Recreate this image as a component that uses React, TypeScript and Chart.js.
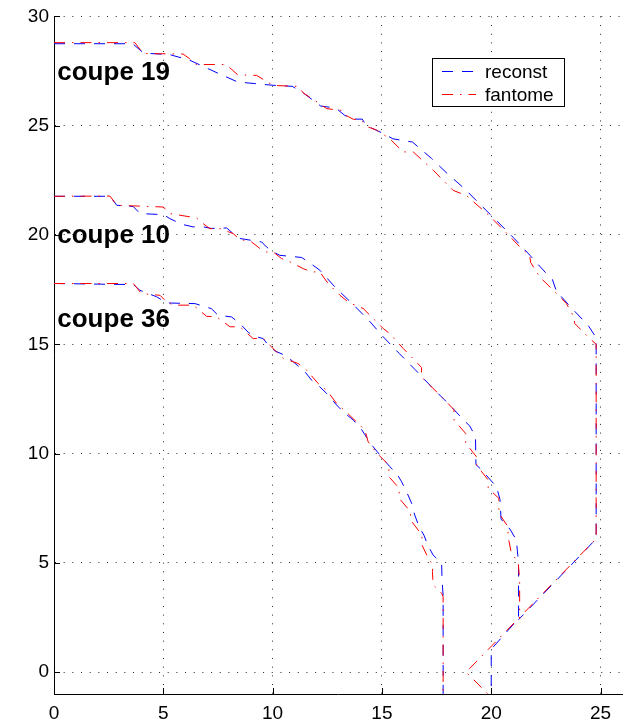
import { useEffect, useRef } from "react";
import { Chart, registerables } from "chart.js";

Chart.register(...registerables);

// ---- axes ----
const xTicks = [0, 5, 10, 15, 20, 25];
const yTicks = [0, 5, 10, 15, 20, 25, 30];
const xMin = 0;
const xMax = 26;
const yMin = -1;
const yMax = 30;

// ---- text ----
const legendLabels = ["reconst", "fantome"];
const sliceLabels = ["coupe 19", "coupe 10", "coupe 36"];
const sliceLabelX = [0.15, 0.15, 0.15];
const sliceLabelY = [27.1, 19.65, 15.77];

// ---- series (x, y) ----
const reconst19: [number, number][] = [
  [0, 28.75], [3.6, 28.75], [4.1, 28.32], [5.3, 28.25], [6.2, 28.0], [7.5, 27.4], [8.4, 27.0],
  [10.0, 26.85], [10.9, 26.8], [11.4, 26.5], [12.2, 25.9], [12.9, 25.8], [13.3, 25.47],
  [13.7, 25.3], [14.1, 25.3], [14.3, 25.0], [15.05, 24.65], [15.5, 24.4], [16.4, 24.25],
  [17.27, 23.5], [18.0, 22.8], [18.8, 22.1], [19.56, 21.33], [20.3, 20.6], [21.05, 19.84],
  [21.77, 19.07], [22.5, 18.26], [22.8, 17.96], [22.98, 17.43], [23.7, 16.63], [24.43, 15.87],
  [24.8, 15.3], [24.8, 6.2], [24.66, 5.95], [21.25, 2.4],
];
const fantome19: [number, number][] = [
  [0, 28.8], [3.7, 28.8], [4.08, 28.3], [5.9, 28.28], [6.2, 28.07], [6.5, 27.8], [7.8, 27.8],
  [8.1, 27.6], [8.4, 27.33], [9.27, 27.3], [10.03, 26.84], [11.17, 26.8], [11.4, 26.5],
  [12.16, 26.0], [12.47, 25.78], [13.15, 25.7], [13.3, 25.5], [13.7, 25.29], [14.0, 25.29],
  [14.37, 24.94], [14.75, 24.8], [15.36, 24.4], [15.97, 23.8], [16.43, 23.8], [17.35, 22.96],
  [17.88, 22.42], [18.26, 22.04], [18.87, 21.8], [19.86, 20.93], [20.73, 20.06], [21.38, 19.38],
  [21.76, 19.07], [21.8, 18.75], [22.22, 18.08], [22.99, 17.32], [23.44, 16.86], [23.78, 16.25],
  [23.82, 15.95], [24.5, 15.27], [24.8, 15.0], [24.8, 6.1], [18.85, 0], [19.85, -1],
];
const reconst10: [number, number][] = [
  [0, 21.77], [2.56, 21.77], [2.87, 21.36], [3.63, 21.3], [3.93, 20.98], [5.0, 20.93],
  [5.3, 20.75], [5.84, 20.49], [6.37, 20.37], [6.83, 20.37], [7.2, 20.3], [7.9, 20.32],
  [8.2, 20.06], [8.5, 19.84], [9.5, 19.68], [9.72, 19.45], [10.03, 19.22], [10.33, 19.07],
  [11.33, 18.97], [11.63, 18.77], [12.16, 18.39], [12.85, 17.62], [13.61, 16.89], [14.37, 16.13],
  [15.06, 15.34], [15.79, 14.58], [16.51, 13.85], [17.27, 13.05], [18.03, 12.29], [18.29, 12.02],
  [18.71, 11.56], [19.02, 11.26], [19.28, 10.77], [19.3, 9.5], [19.56, 9.25], [20.24, 8.48],
  [20.4, 7.9], [20.45, 7.0], [20.85, 6.55], [21.15, 6.05], [21.2, 5.5], [21.25, 5.0],
  [21.25, 2.45], [20.0, 1.05], [20.0, -1],
];
const fantome10: [number, number][] = [
  [0, 21.77], [2.56, 21.78], [2.87, 21.36], [5.0, 21.28], [5.3, 20.98], [6.52, 20.78],
  [6.82, 20.52], [7.13, 20.29], [7.6, 20.29], [8.2, 20.06], [8.5, 19.8], [9.04, 19.68],
  [9.42, 19.38], [9.72, 19.22], [10.03, 19.22], [10.41, 18.92], [10.79, 18.77], [11.4, 18.46],
  [11.78, 18.31], [12.16, 18.31], [12.54, 17.78], [13.08, 17.24], [13.5, 16.9], [14.14, 16.64],
  [14.45, 16.33], [15.06, 15.72], [15.36, 15.49], [15.97, 14.81], [16.28, 14.5], [16.81, 13.94],
  [16.81, 13.5], [17.19, 13.13], [17.73, 12.6], [18.3, 12.0], [18.3, 11.53], [18.83, 10.92],
  [18.83, 10.47], [19.33, 9.85], [19.33, 9.47], [19.86, 8.79], [19.86, 8.41], [20.35, 7.95],
  [20.35, 7.27], [20.77, 6.65], [20.77, 6.2], [20.92, 5.44], [21.23, 5.05], [21.3, 4.2],
  [21.3, 2.45],
];
const reconst36: [number, number][] = [
  [0, 17.78], [3.63, 17.73], [3.93, 17.47], [4.7, 17.17], [5.15, 16.89], [6.45, 16.86],
  [7.2, 16.63], [7.5, 16.33], [8.12, 16.25], [8.5, 15.95], [8.89, 15.54], [9.27, 15.34],
  [9.57, 15.26], [9.8, 14.96], [10.1, 14.7], [10.64, 14.46], [10.94, 14.2], [11.48, 13.74],
  [11.78, 13.36], [12.16, 13.05], [12.47, 12.75], [12.93, 12.22], [13.23, 11.91], [13.69, 11.53],
  [14.07, 11.1], [14.3, 10.74], [14.6, 10.31], [14.98, 9.85], [15.36, 9.4], [15.67, 9.1],
  [15.9, 8.71], [16.16, 8.18], [16.36, 7.72], [16.5, 7.19], [16.7, 6.65], [16.92, 6.27],
  [17.09, 5.82], [17.34, 5.36], [17.73, 4.98], [17.75, 4.2], [17.8, 3.5], [17.8, -1],
];
const fantome36: [number, number][] = [
  [0, 17.78], [3.63, 17.78], [4.0, 17.32], [4.85, 17.24], [5.15, 16.94], [5.46, 16.79],
  [6.37, 16.79], [6.98, 16.28], [7.44, 16.25], [8.05, 15.8], [8.5, 15.8], [9.11, 15.26],
  [9.57, 15.26], [10.18, 14.65], [10.49, 14.35], [11.17, 14.12], [11.55, 13.82], [12.08, 13.21],
  [12.47, 12.9], [12.93, 12.29], [13.3, 11.96], [13.84, 11.45], [14.22, 11.07], [14.37, 10.54],
  [14.75, 10.04], [15.32, 9.47], [15.32, 8.94], [15.79, 8.41], [15.79, 7.95], [16.31, 7.34],
  [16.31, 6.96], [16.83, 6.27], [16.83, 5.82], [17.16, 5.13], [17.34, 4.9], [17.31, 4.6],
  [17.34, 4.0], [17.73, 3.61], [17.8, 3.45], [17.8, -1],
];

const BLUE = "#0000ff";
const RED = "#ff0000";
const BLUE_DASH = [11, 9];
const RED_DASH = [11, 7, 1.5, 7];
const FONT = '"Liberation Sans", Arial, Helvetica, sans-serif';

const toPts = (arr: [number, number][]) => arr.map(([x, y]) => ({ x, y }));

const overlayPlugin = {
  id: "overlay",
  afterDraw(chart: any) {
    const { ctx, chartArea, scales } = chart;
    const xs = scales.x;
    const ys = scales.y;
    ctx.save();
    // inward tick marks
    ctx.strokeStyle = "#000";
    ctx.lineWidth = 1;
    ctx.setLineDash([]);
    ctx.beginPath();
    for (const v of xTicks) {
      const px = Math.round(xs.getPixelForValue(v)) + 0.5;
      ctx.moveTo(px, chartArea.bottom);
      ctx.lineTo(px, chartArea.bottom - 6);
    }
    for (const v of yTicks) {
      const py = Math.round(ys.getPixelForValue(v)) + 0.5;
      ctx.moveTo(chartArea.left, py);
      ctx.lineTo(chartArea.left + 6, py);
    }
    ctx.stroke();

    // slice labels
    ctx.fillStyle = "#000";
    ctx.font = `bold 26px ${FONT}`;
    ctx.textAlign = "left";
    ctx.textBaseline = "alphabetic";
    sliceLabels.forEach((t, i) => {
      ctx.fillText(t, xs.getPixelForValue(sliceLabelX[i]), ys.getPixelForValue(sliceLabelY[i]));
    });

    // legend
    const lx = 432.5;
    const ly = 58.5;
    const lw = 132;
    const lh = 48;
    ctx.fillStyle = "#fff";
    ctx.fillRect(lx, ly, lw, lh);
    ctx.strokeStyle = "#000";
    ctx.lineWidth = 1;
    ctx.strokeRect(lx, ly, lw, lh);
    const rows = [
      { y: 71.5, color: BLUE, dash: BLUE_DASH, text: legendLabels[0], base: 78 },
      { y: 94.5, color: RED, dash: RED_DASH, text: legendLabels[1], base: 101 },
    ];
    for (const r of rows) {
      ctx.strokeStyle = r.color;
      ctx.setLineDash(r.dash);
      ctx.beginPath();
      ctx.moveTo(442, r.y);
      ctx.lineTo(476, r.y);
      ctx.stroke();
      ctx.setLineDash([]);
      ctx.fillStyle = "#000";
      ctx.font = `19px ${FONT}`;
      ctx.fillText(r.text, 485, r.base);
    }
    ctx.restore();
  },
};

export default function App() {
  const ref = useRef<HTMLCanvasElement | null>(null);

  useEffect(() => {
    if (!ref.current) return;
    const line = (data: [number, number][], color: string, dash: number[], order: number) => ({
      data: toPts(data),
      borderColor: color,
      backgroundColor: color,
      borderDash: dash,
      borderWidth: 1,
      pointRadius: 0,
      showLine: true,
      fill: false,
      tension: 0,
      order,
    });
    const chart = new Chart(ref.current, {
      type: "scatter",
      data: {
        datasets: [
          line(reconst19, BLUE, BLUE_DASH, 1),
          line(reconst10, BLUE, BLUE_DASH, 1),
          line(reconst36, BLUE, BLUE_DASH, 1),
          line(fantome19, RED, RED_DASH, 0),
          line(fantome10, RED, RED_DASH, 0),
          line(fantome36, RED, RED_DASH, 0),
        ],
      },
      options: {
        animation: false,
        responsive: false,
        events: [],
        layout: { padding: { left: 0, top: 16, right: 7.6, bottom: 0 } },
        plugins: { legend: { display: false }, tooltip: { enabled: false } },
        scales: {
          x: {
            type: "linear",
            min: xMin,
            max: xMax,
            afterBuildTicks: (s: any) => {
              s.ticks = xTicks.map((v) => ({ value: v }));
            },
            afterFit: (s: any) => {
              s.height = 27;
            },
            ticks: {
              color: "#000",
              padding: 8,
              maxRotation: 0,
              autoSkip: false,
              font: { family: FONT, size: 19 },
            },
            grid: { color: "rgba(0,0,0,0.85)", lineWidth: 1, drawTicks: false },
            border: { display: true, color: "#000", width: 1, dash: [1, 7.67] },
          },
          y: {
            type: "linear",
            min: yMin,
            max: yMax,
            afterBuildTicks: (s: any) => {
              s.ticks = yTicks.map((v) => ({ value: v }));
            },
            afterFit: (s: any) => {
              s.width = 54;
            },
            ticks: {
              color: "#000",
              padding: 5,
              autoSkip: false,
              font: { family: FONT, size: 19 },
            },
            grid: { color: "rgba(0,0,0,0.85)", lineWidth: 1, drawTicks: false },
            border: { display: true, color: "#000", width: 1, dash: [1, 7.67] },
          },
        },
      } as any,
      plugins: [overlayPlugin],
    });
    return () => chart.destroy();
  }, []);

  return (
    <div style={{ position: "absolute", left: 0, top: 0, width: 630, height: 721, background: "#fff" }}>
      <canvas ref={ref} width={630} height={721} style={{ display: "block" }} />
    </div>
  );
}
